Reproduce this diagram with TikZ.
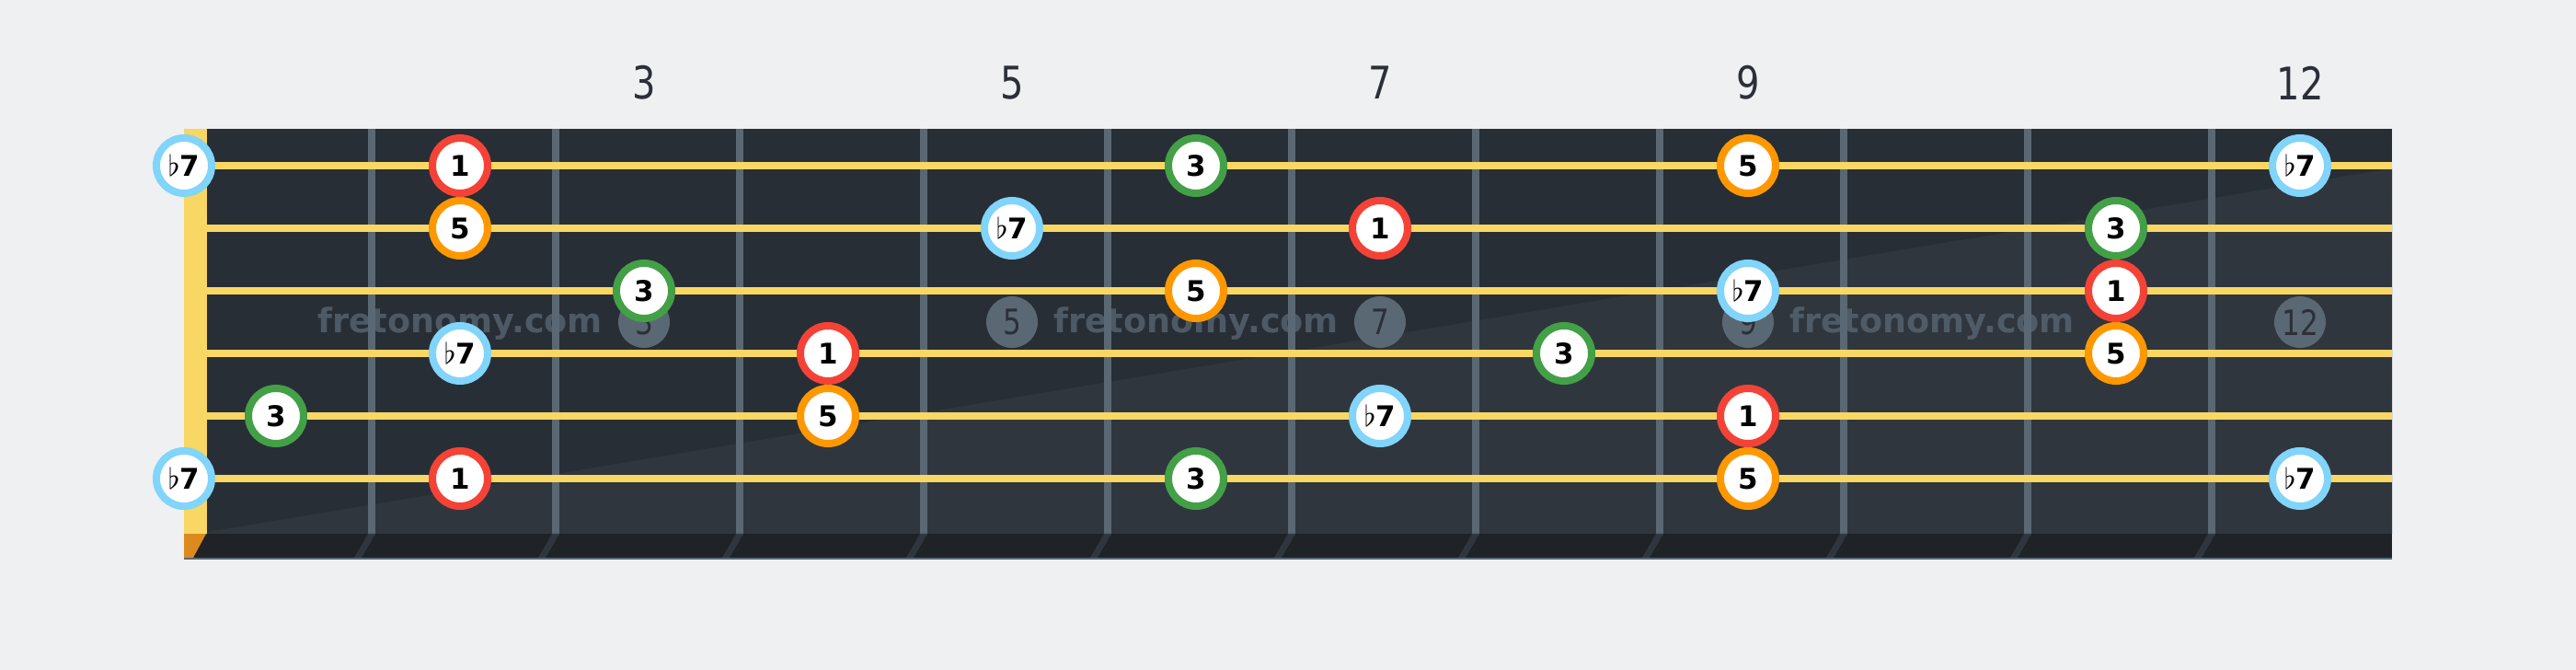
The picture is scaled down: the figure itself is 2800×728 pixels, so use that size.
\documentclass[tikz,border=0pt]{standalone}
\usepackage{fontspec}
\newfontfamily\dejavu{DejaVu Sans}
\newfontfamily\dejavunarrow[FakeStretch=0.82]{DejaVu Sans}
\definecolor{bgcol}{HTML}{EEF0F2}
\definecolor{boardcol}{HTML}{282E36}
\definecolor{boardlight}{HTML}{30363E}
\definecolor{stripcol}{HTML}{1F2327}
\definecolor{fretcol}{HTML}{5A6874}
\definecolor{shadowcol}{HTML}{30363F}
\definecolor{stringcol}{HTML}{F8D764}
\definecolor{nutorange}{HTML}{DC8A20}
\definecolor{textdark}{HTML}{2B3038}
\definecolor{ringblue}{HTML}{81D4FA}
\definecolor{ringred}{HTML}{F44336}
\definecolor{ringorange}{HTML}{FF9800}
\definecolor{ringgreen}{HTML}{43A047}
\newcommand{\flatnote}{\ensuremath{\flat}}
\tikzset{
  note/.style={circle, draw=#1, line width=0.8mm, fill=white, minimum size=6mm,
    inner sep=0pt, font=\dejavu\bfseries\fontsize{8.8}{8.8}\selectfont},
  fretnum/.style={inner sep=0pt, text=textdark, font=\dejavunarrow\fontsize{13.9}{13.9}\selectfont},
  fretdot/.style={circle, fill=fretcol, minimum size=5.6mm, inner sep=0pt, text=textdark,
    font=\dejavunarrow\fontsize{10.8}{10.8}\selectfont},
  wmark/.style={inner sep=0pt, anchor=base, text=fretcol, text opacity=0.75,
    font=\dejavu\bfseries\fontsize{10.4}{10.4}\selectfont},
  guitarstring/.style={stringcol, line width=0.8mm}
}
\begin{document}
\begin{tikzpicture}[x=0.1mm, y=-0.1mm]
\fill[bgcol](0,0) rectangle (2800,728);
\useasboundingbox (0,0) rectangle (2800,728);
% fretboard
\fill[boardcol](200,140) rectangle (2600,580);
\fill[boardlight](225,578) -- (2600,183) -- (2600,580) -- (225,580) -- cycle;
\fill[stripcol](200,580) rectangle (2600,606);
\fill[fretcol](200,606) rectangle (2600,608);
\fill[nutorange](200,580) -- (224,580) -- (210,606) -- (200,606) -- cycle;
%
\fill[fretcol](400,140) rectangle (408,580);  \fill[shadowcol](400,580) -- (408,580) -- (393,606) -- (385,606) -- cycle;
\fill[fretcol](600,140) rectangle (608,580);  \fill[shadowcol](600,580) -- (608,580) -- (593,606) -- (585,606) -- cycle;
\fill[fretcol](800,140) rectangle (808,580);  \fill[shadowcol](800,580) -- (808,580) -- (793,606) -- (785,606) -- cycle;
\fill[fretcol](1000,140) rectangle (1008,580);\fill[shadowcol](1000,580) -- (1008,580) -- (993,606) -- (985,606) -- cycle;
\fill[fretcol](1200,140) rectangle (1208,580);\fill[shadowcol](1200,580) -- (1208,580) -- (1193,606) -- (1185,606) -- cycle;
\fill[fretcol](1400,140) rectangle (1408,580);\fill[shadowcol](1400,580) -- (1408,580) -- (1393,606) -- (1385,606) -- cycle;
\fill[fretcol](1600,140) rectangle (1608,580);\fill[shadowcol](1600,580) -- (1608,580) -- (1593,606) -- (1585,606) -- cycle;
\fill[fretcol](1800,140) rectangle (1808,580);\fill[shadowcol](1800,580) -- (1808,580) -- (1793,606) -- (1785,606) -- cycle;
\fill[fretcol](2000,140) rectangle (2008,580);\fill[shadowcol](2000,580) -- (2008,580) -- (1993,606) -- (1985,606) -- cycle;
\fill[fretcol](2200,140) rectangle (2208,580);\fill[shadowcol](2200,580) -- (2208,580) -- (2193,606) -- (2185,606) -- cycle;
\fill[fretcol](2400,140) rectangle (2408,580);\fill[shadowcol](2400,580) -- (2408,580) -- (2393,606) -- (2385,606) -- cycle;
% fret numbers and inlays
\node[fretnum](lab3) at (700,90) {3};
\node[fretnum](lab5) at (1100,90) {5};
\node[fretnum](lab7) at (1500,90) {7};
\node[fretnum](lab9) at (1900,90) {9};
\node[fretnum](lab12) at (2500,90) {12};
\node[fretdot](dot3) at (700,350) {3};
\node[fretdot](dot5) at (1100,350) {5};
\node[fretdot](dot7) at (1500,350) {7};
\node[fretdot](dot9) at (1900,350) {9};
\node[fretdot](dot12) at (2500,350) {12};
\node[wmark](wm1) at (500,362) {fretonomy.com};
\node[wmark](wm2) at (1300,362) {fretonomy.com};
\node[wmark](wm3) at (2100,362) {fretonomy.com};
% strings and nut
\draw[guitarstring](225,180) -- (2600,180);
\draw[guitarstring](225,248) -- (2600,248);
\draw[guitarstring](225,316) -- (2600,316);
\draw[guitarstring](225,384) -- (2600,384);
\draw[guitarstring](225,452) -- (2600,452);
\draw[guitarstring](225,520) -- (2600,520);
\fill[stringcol](200,140) rectangle (225,580);
%
\node[note=ringblue](s1f0) at (200,180) {\flatnote7};
\node[note=ringred](s1f2) at (500,180) {1};
\node[note=ringgreen](s1f6) at (1300,180) {3};
\node[note=ringorange](s1f9) at (1900,180) {5};
\node[note=ringblue](s1f12) at (2500,180) {\flatnote7};
\node[note=ringorange](s2f2) at (500,248) {5};
\node[note=ringblue](s2f5) at (1100,248) {\flatnote7};
\node[note=ringred](s2f7) at (1500,248) {1};
\node[note=ringgreen](s2f11) at (2300,248) {3};
\node[note=ringgreen](s3f3) at (700,316) {3};
\node[note=ringorange](s3f6) at (1300,316) {5};
\node[note=ringblue](s3f9) at (1900,316) {\flatnote7};
\node[note=ringred](s3f11) at (2300,316) {1};
\node[note=ringblue](s4f2) at (500,384) {\flatnote7};
\node[note=ringred](s4f4) at (900,384) {1};
\node[note=ringgreen](s4f8) at (1700,384) {3};
\node[note=ringorange](s4f11) at (2300,384) {5};
\node[note=ringgreen](s5f1) at (300,452) {3};
\node[note=ringorange](s5f4) at (900,452) {5};
\node[note=ringblue](s5f7) at (1500,452) {\flatnote7};
\node[note=ringred](s5f9) at (1900,452) {1};
\node[note=ringblue](s6f0) at (200,520) {\flatnote7};
\node[note=ringred](s6f2) at (500,520) {1};
\node[note=ringgreen](s6f6) at (1300,520) {3};
\node[note=ringorange](s6f9) at (1900,520) {5};
\node[note=ringblue](s6f12) at (2500,520) {\flatnote7};
\end{tikzpicture}
\end{document}
